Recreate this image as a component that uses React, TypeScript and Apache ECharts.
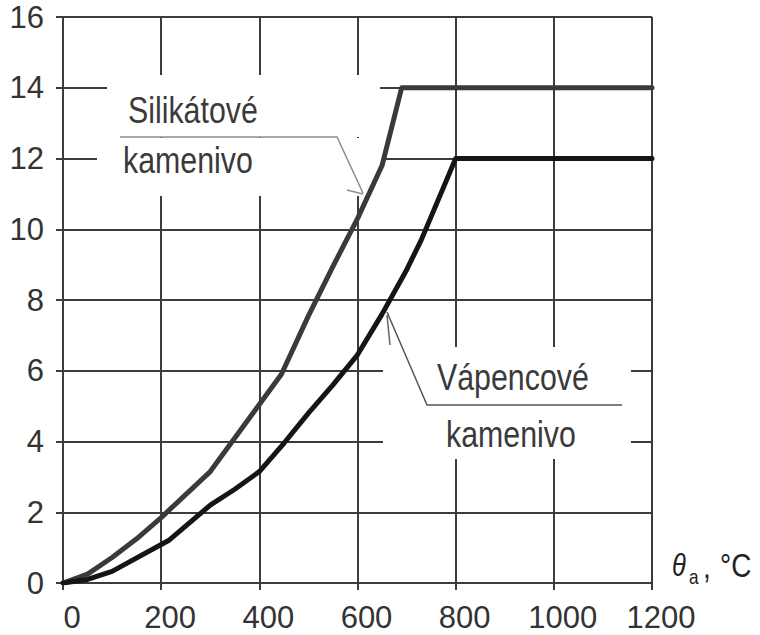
import React, { useEffect, useRef } from "react";
import * as echarts from "echarts";

// Thermal strain (‰) versus temperature θa (°C)
const siliceousTemp = [0, 50, 100, 150, 200, 300, 445, 500, 550, 600, 650, 690, 1200];
const siliceousStrain = [0, 0.25, 0.72, 1.25, 1.85, 3.15, 5.9, 7.55, 8.95, 10.3, 11.8, 14, 14];

const calcareousTemp = [0, 50, 100, 215, 300, 350, 400, 450, 500, 550, 600, 650, 700, 730, 800, 1200];
const calcareousStrain = [0, 0.1, 0.33, 1.2, 2.2, 2.65, 3.15, 3.95, 4.8, 5.6, 6.45, 7.6, 8.85, 9.7, 12, 12];

const xTicks = { min: 0, max: 1200, interval: 200 };
const yTicks = { min: 0, max: 16, interval: 2 };

const FONT = "'Liberation Sans', Arial, sans-serif";
const NARROW = 0.82; // horizontal squeeze of the annotation lettering
const GRID_COLOR = "#3c3c3c";

const pairs = (xs: number[], ys: number[]) => xs.map((x, i) => [x, ys[i]]);

export default function App() {
  const ref = useRef<HTMLDivElement>(null);

  useEffect(() => {
    if (!ref.current) return;
    const chart = echarts.init(ref.current, null, { renderer: "svg" });

    const axisCommon = {
      type: "value" as const,
      axisLine: { show: true, lineStyle: { color: GRID_COLOR, width: 2 } },
      axisTick: { show: true, length: 7, lineStyle: { color: GRID_COLOR, width: 2 } },
      splitLine: { show: true, lineStyle: { color: GRID_COLOR, width: 2 } },
    };

    const text = (
      content: string,
      x: number,
      y: number,
      size: number,
      opts: { italic?: boolean; color?: string } = {}
    ) => ({
      type: "text",
      z: 5,
      x,
      y,
      scaleX: NARROW,
      style: {
        text: content,
        fill: opts.color ?? "#3a3a3a",
        font: `${opts.italic ? "italic " : ""}${size}px ${FONT}`,
        textAlign: "left",
        textVerticalAlign: "middle",
      },
    });

    const whiteRect = (x: number, y: number, w: number, h: number) => ({
      type: "rect",
      z: 1,
      shape: { x, y, width: w, height: h },
      style: { fill: "#ffffff" },
      silent: true,
    });

    const leader = (points: number[][], color: string) => ({
      type: "polyline",
      z: 4,
      shape: { points },
      style: { stroke: color, lineWidth: 1.5, fill: null },
      silent: true,
    });

    chart.setOption({
      animation: false,
      backgroundColor: "#ffffff",
      grid: { left: 63, right: 108, top: 17, bottom: 52, containLabel: false },
      xAxis: {
        ...axisCommon,
        ...xTicks,
        axisLabel: {
          color: "#333",
          fontFamily: FONT,
          fontSize: 31,
          margin: 19,
          padding: [0, 0, 0, 18],
          formatter: (v: number) => String(v),
        },
      },
      yAxis: {
        ...axisCommon,
        ...yTicks,
        axisLabel: {
          color: "#333",
          fontFamily: FONT,
          fontSize: 31,
          margin: 19,
          formatter: (v: number) => String(v),
        },
      },
      series: [
        {
          name: "Silikátové kamenivo",
          type: "line",
          data: pairs(siliceousTemp, siliceousStrain),
          showSymbol: false,
          symbol: "none",
          z: 3,
          lineStyle: { color: "#3a3a3a", width: 5, cap: "round", join: "round" },
        },
        {
          name: "Vápencové kamenivo",
          type: "line",
          data: pairs(calcareousTemp, calcareousStrain),
          showSymbol: false,
          symbol: "none",
          z: 3,
          lineStyle: { color: "#151515", width: 5, cap: "round", join: "round" },
        },
      ],
      graphic: [
        // label backgrounds masking the grid
        whiteRect(107, 75, 273, 62),
        whiteRect(97, 138, 286, 58),
        whiteRect(383, 347, 248, 112),
        // leader lines
        leader([[120, 137], [337, 137], [363, 193]], "#8c8c8c"),
        leader([[347, 190], [363, 194]], "#8c8c8c"),
        leader([[387, 312], [427, 405], [622, 405]], "#555555"),
        leader([[387, 315], [390, 345]], "#666666"),
        // curve labels
        text("Silikátové", 128, 110, 37),
        text("kamenivo", 123, 160, 37),
        text("Vápencové", 437, 377, 37),
        text("kamenivo", 446, 434, 37),
        // axis title θa, °C
        text("θ", 672, 565, 31, { italic: true, color: "#222" }),
        text("a", 689, 577, 21, { color: "#222" }),
        text(",", 703, 567, 34, { color: "#222" }),
        text("°C", 720, 566, 34, { color: "#222" }),
      ],
    });

    return () => chart.dispose();
  }, []);

  return (
    <div
      ref={ref}
      style={{ position: "absolute", left: 0, top: 0, width: 760, height: 635 }}
    />
  );
}
